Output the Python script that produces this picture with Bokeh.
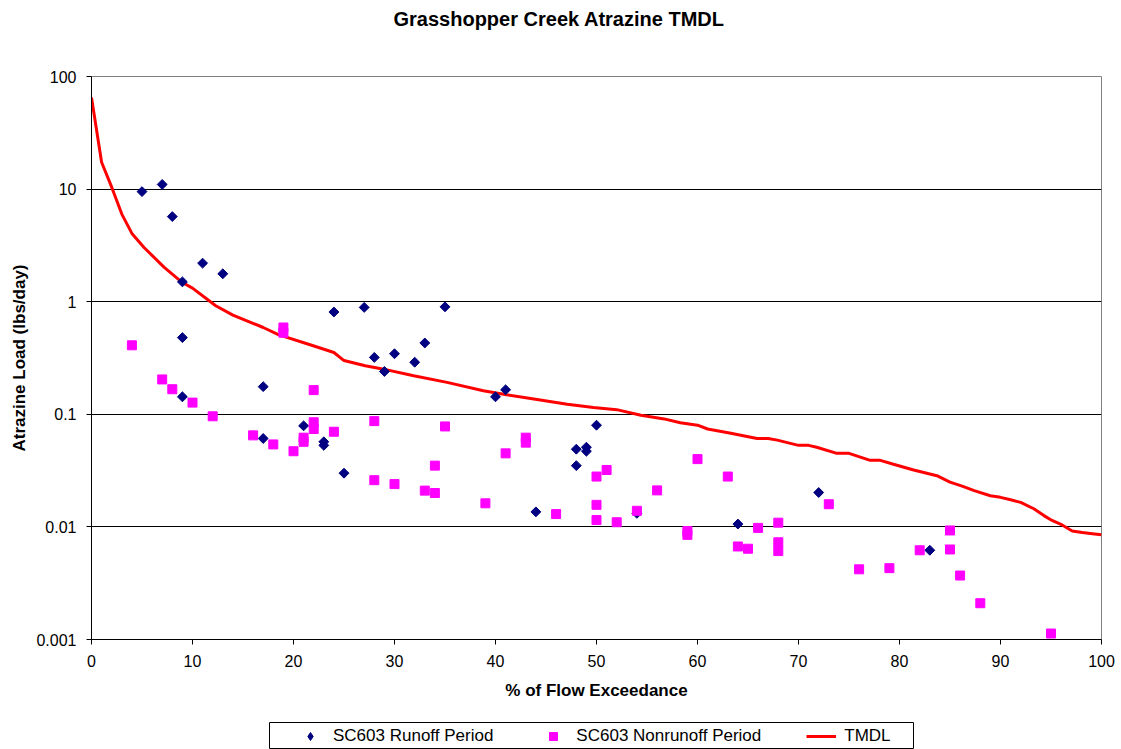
import math
from bokeh.plotting import figure
from bokeh.models import (Legend, LegendItem, FixedTicker, CustomJSTickFormatter,
                          Range1d, ColumnDataSource, Title, Spacer)
from bokeh.layouts import column, row
from bokeh.embed import file_html
from bokeh.resources import INLINE

# ---------------- data ----------------
runoff_x = [5, 7, 8, 9, 11, 13, 9, 9, 17, 17, 21, 23, 23, 25, 24, 27, 28, 29, 30,
            32, 33, 35, 40, 41, 44, 48, 48, 49, 49, 50, 54, 64, 72, 83]
runoff_y = [9.5, 11, 5.7, 1.5, 2.2, 1.77, 0.48, 0.143, 0.176, 0.061, 0.079, 0.057,
            0.053, 0.030, 0.81, 0.89, 0.32, 0.24, 0.345, 0.29, 0.43, 0.9, 0.143,
            0.165, 0.0136, 0.049, 0.035, 0.051, 0.047, 0.080, 0.0132, 0.0106,
            0.0202, 0.0062]

nonrunoff_x = [4, 7, 8, 10, 12, 16, 18, 19, 19, 20, 21, 21, 22, 22, 22, 24, 28, 28,
               30, 33, 34, 34, 35, 39, 41, 43, 43, 46, 50, 50, 50, 51, 52, 54, 56,
               59, 59, 60, 63, 64, 65, 66, 68, 68, 68, 73, 76, 79, 82, 85, 85, 86,
               88, 95]
nonrunoff_y = [0.41, 0.204, 0.167, 0.127, 0.096, 0.065, 0.054, 0.59, 0.53, 0.047,
               0.062, 0.057, 0.164, 0.085, 0.074, 0.070, 0.087, 0.026, 0.024, 0.021,
               0.035, 0.020, 0.078, 0.0162, 0.045, 0.062, 0.056, 0.0130, 0.028,
               0.0157, 0.0115, 0.032, 0.011, 0.0139, 0.0211, 0.0092, 0.0085, 0.040,
               0.028, 0.0067, 0.0064, 0.0098, 0.0109, 0.0073, 0.0061, 0.0159, 0.0042,
               0.0043, 0.0062, 0.0093, 0.0063, 0.0037, 0.0021, 0.00113]

tmdl_x = [0, 1, 2, 3, 4, 5.2, 7.2, 9, 10, 12.3, 14, 17, 18.5, 21.8, 24, 25, 27.1,
          28.8, 31.9, 35.2, 38.8, 41.1, 43.8, 47.1, 49.7, 52, 54.4, 56.7, 58.3, 60,
          61, 63.3, 65.9, 67, 67.9, 70, 71, 71.8, 73.8, 75, 77.1, 78.1, 79.4, 81.4,
          83.7, 85, 86.2, 87.4, 89, 90, 91, 92, 93.3, 94.3, 95.1, 96.1, 97.1, 98.1,
          99.1, 100]
tmdl_y = [65, 17.3, 10.4, 6.0, 4.04, 3.03, 2.02, 1.48, 1.32, 0.92, 0.76, 0.59, 0.51,
          0.41, 0.354, 0.30, 0.27, 0.253, 0.22, 0.192, 0.162, 0.149, 0.137, 0.123,
          0.115, 0.110, 0.098, 0.091, 0.084, 0.080, 0.074, 0.068, 0.061, 0.061,
          0.059, 0.053, 0.053, 0.051, 0.045, 0.045, 0.039, 0.039, 0.036, 0.032,
          0.0285, 0.025, 0.023, 0.021, 0.0189, 0.0183, 0.0174, 0.0165, 0.0145,
          0.0126, 0.0114, 0.0104, 0.0092, 0.0089, 0.0087, 0.0085]

x_ticks = [0, 10, 20, 30, 40, 50, 60, 70, 80, 90, 100]
y_ticks = [0.001, 0.01, 0.1, 1, 10, 100]

title_text = "Grasshopper Creek Atrazine TMDL"
x_label = "% of Flow Exceedance"
y_label = "Atrazine Load (lbs/day)"
series_names = ["SC603 Runoff Period", "SC603 Nonrunoff Period", "TMDL"]

FONT = "Liberation Sans"
RUN_COLOR = "#000080"
NON_COLOR = "#FF00FF"
LINE_COLOR = "#FF0000"

# ---------------- main figure ----------------
p = figure(width=1121, height=722, y_axis_type="log",
           x_range=Range1d(0, 100), y_range=Range1d(0.001, 100),
           output_backend="svg", toolbar_location=None,
           min_border_left=91, min_border_right=20, min_border_top=76,
           min_border_bottom=83)

p.title.text = title_text
p.title.text_font = FONT
p.title.text_font_size = "20px"
p.title.text_font_style = "bold"
p.title.align = "left"
p.title.offset = 302
p.title.text_color = "black"
# spacer between title and frame
p.add_layout(Title(text=" ", text_font_size="27px", standoff=10), "above")

p.outline_line_color = "#808080"
p.outline_line_width = 1
p.background_fill_color = "white"
p.border_fill_color = "white"

p.xgrid.visible = False
p.ygrid.grid_line_color = "black"
p.ygrid.grid_line_width = 1
p.ygrid.ticker = FixedTicker(ticks=y_ticks)

p.xaxis.ticker = FixedTicker(ticks=x_ticks)
p.yaxis.ticker = FixedTicker(ticks=y_ticks)
p.yaxis.formatter = CustomJSTickFormatter(code="""
    if (tick >= 1) { return tick.toFixed(0); }
    return String(parseFloat(tick.toPrecision(1)));
""")
for ax in (p.xaxis[0], p.yaxis[0]):
    ax.axis_line_color = "black"
    ax.axis_line_width = 1
    ax.major_tick_line_color = "black"
    ax.major_tick_out = 5
    ax.major_tick_in = 0
    ax.minor_tick_line_color = None
    ax.major_label_text_font = FONT
    ax.major_label_text_font_size = "16px"
    ax.major_label_text_color = "black"
    ax.major_label_standoff = 10
    ax.axis_label_text_font = FONT
    ax.axis_label_text_font_size = "17px"
    ax.axis_label_text_font_style = "bold"
    ax.axis_label_text_color = "black"
p.xaxis.axis_label_standoff = 11
p.yaxis.axis_label_standoff = 4
p.xaxis.axis_label = x_label
p.yaxis.axis_label = y_label

src_r = ColumnDataSource(dict(x=runoff_x, y=runoff_y))
src_n = ColumnDataSource(dict(x=nonrunoff_x, y=nonrunoff_y))
src_t = ColumnDataSource(dict(x=tmdl_x, y=tmdl_y))

p.line("x", "y", source=src_t, line_color=LINE_COLOR, line_width=3)
p.scatter("x", "y", source=src_r, marker="square", angle=math.pi / 4,
          size=7, fill_color=RUN_COLOR, line_color=RUN_COLOR)
p.scatter("x", "y", source=src_n, marker="square", size=9,
          fill_color=NON_COLOR, line_color=NON_COLOR)

# ---------------- legend strip ----------------
lg = figure(width=645, height=27, x_range=Range1d(0, 1), y_range=Range1d(0, 1),
            output_backend="svg", toolbar_location=None,
            x_axis_location=None, y_axis_location=None,
            min_border=0, min_border_left=0, min_border_right=0,
            min_border_top=0, min_border_bottom=0)
lg.xgrid.visible = False
lg.ygrid.visible = False
lg.outline_line_color = "black"
lg.outline_line_width = 1
lg.background_fill_color = "white"
lg.border_fill_color = "white"

# legend proxies (no visible data; they only provide the legend swatches)
nan = float("nan")
proxy = ColumnDataSource(dict(x=[nan], y=[nan]))
d_run = lg.scatter("x", "y", source=proxy, marker="diamond", size=11,
                   fill_color=RUN_COLOR, line_color=RUN_COLOR)
d_non = lg.scatter("x", "y", source=proxy, marker="square", size=8,
                   fill_color=NON_COLOR, line_color=NON_COLOR)
d_line = lg.line("x", "y", source=proxy, line_color=LINE_COLOR, line_width=3)

legend = Legend(items=[LegendItem(label=series_names[0], renderers=[d_run]),
                       LegendItem(label=series_names[1], renderers=[d_non]),
                       LegendItem(label=series_names[2], renderers=[d_line])],
                orientation="horizontal", location=(26, 3))
legend.label_text_font = FONT
legend.label_text_font_size = "17px"
legend.label_text_color = "black"
legend.glyph_width = 30
legend.glyph_height = 20
legend.label_height = 20
legend.label_standoff = 8
legend.spacing = 45
legend.padding = 0
legend.margin = 0
legend.border_line_color = None
legend.background_fill_alpha = 0
lg.add_layout(legend, "center")

layout = column(p, row(Spacer(width=269, height=27), lg))

open("out.html", "w").write(file_html(layout, INLINE))
